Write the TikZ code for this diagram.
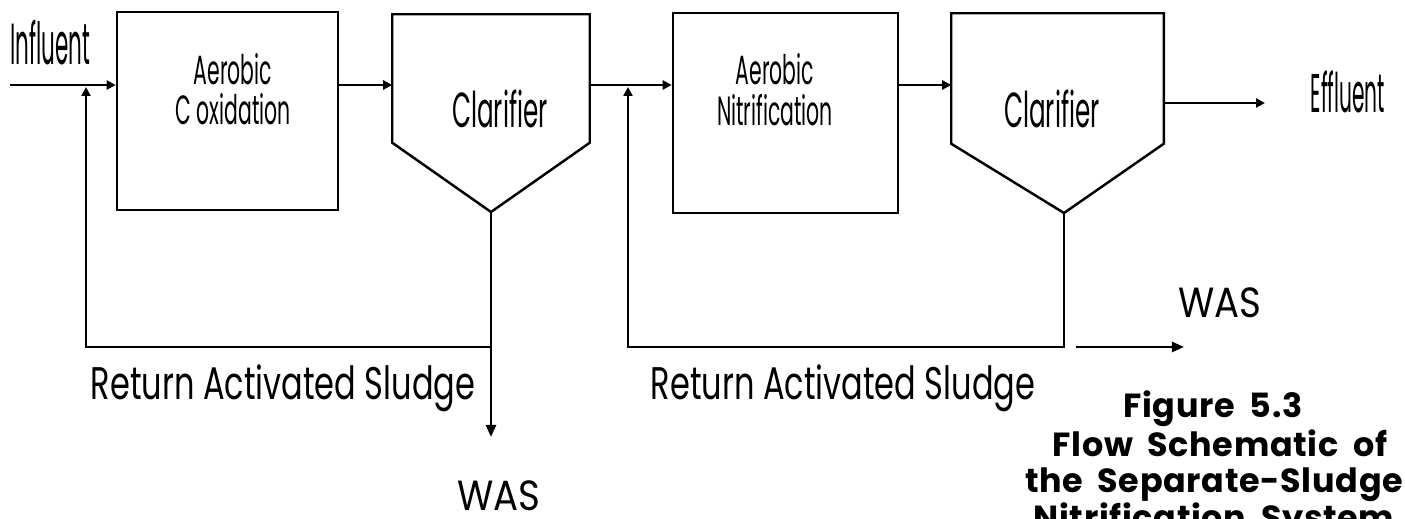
\documentclass[tikz,border=0pt]{standalone}
\usepackage{fontspec}
\usetikzlibrary{arrows.meta,positioning,calc}
\newfontfamily\thinfont[FakeStretch=0.37]{Poppins}
\newfontfamily\slimfont[FakeStretch=0.5]{Poppins}
\newfontfamily\narrowfont[FakeStretch=0.7]{Poppins}
\newfontfamily\wasfont[FakeStretch=0.88]{Poppins}
\newfontfamily\capfont[WordSpace=1.9,LetterSpace=2]{Poppins}
\tikzset{
  vessel/.style={draw,line width=0.7pt,inner sep=0pt},
  body/.style={inner sep=0pt,draw=none},
  wall/.style={line width=0.7pt,line join=miter},
  pipe/.style={line width=0.7pt},
  flow/.style={line width=0.7pt,-{Triangle[length=0.9mm,width=0.9mm]}},
  waste/.style={line width=0.7pt,-{Triangle[length=1.2mm,width=1mm]}},
  unit/.style={font=\slimfont\fontsize{11.6}{13}\selectfont,inner sep=0pt,anchor=base},
  tag/.style={font=\thinfont\fontsize{16.5}{16.5}\selectfont,inner sep=0pt,anchor=base},
  ras/.style={font=\narrowfont\fontsize{13}{13}\selectfont,inner sep=0pt,anchor=base},
  was/.style={font=\wasfont\fontsize{12}{12}\selectfont,inner sep=0pt,anchor=base},
  figcap/.style={font=\capfont\bfseries\fontsize{9.5}{9.5}\selectfont,inner sep=0pt,anchor=base},
}
\begin{document}
\begin{tikzpicture}[x=0.01cm,y=-0.01cm]
  \useasboundingbox (0,0) rectangle (1405,519);
  \clip (0,0) rectangle (1405,519);

  % reactors
  \node[vessel,minimum width=2.21cm,minimum height=1.98cm] (ox) at (227.5,111) {};
  \node[vessel,minimum width=2.25cm,minimum height=2.00cm] (nit) at (785.5,113) {};
  \node[unit] (ox1) at (233,85) {Aerobic};
  \node[unit] (ox2) at (233,125) {C oxidation};
  \node[unit] (nit1) at (775,85) {Aerobic};
  \node[unit] (nit2) at (775,126) {Nitrification};

  % clarifiers
  \node[body,minimum width=1.96cm,minimum height=1.27cm] (k1) at (491,78.5) {};
  \node[body,minimum width=2.11cm,minimum height=1.29cm] (k2) at (1057.5,78.5) {};
  \coordinate (k1tip) at (491,212);
  \coordinate (k2tip) at (1064,213);
  \draw[wall] (k1.north west) -- (k1.south west) -- (k1tip) -- (k1.south east) -- (k1.north east) -- cycle;
  \draw[wall] (k2.north west) -- (k2.south west) -- (k2tip) -- (k2.south east) -- (k2.north east) -- cycle;
  \node[tag,font=\slimfont\fontsize{14}{14}\selectfont] (k1txt) at (500,128) {Clarifier};
  \node[tag,font=\slimfont\fontsize{14}{14}\selectfont] (k2txt) at (1052,128) {Clarifier};

  % main line
  \node[tag] (infl) at (50,65) {Influent};
  \node[tag,font=\thinfont\fontsize{15.5}{15.5}\selectfont] (effl) at (1348,113) {Effluent};
  \coordinate (inf) at (10,85);
  \coordinate (eff) at (1265,103);
  \draw[flow] (inf) -- (ox.west |- inf);
  \draw[flow] (ox.east |- inf) -- (k1.west |- inf);
  \draw[flow] (k1.east |- inf) -- (nit.west |- inf);
  \draw[flow] (nit.east |- inf) -- (k2.west |- inf);
  \draw[flow] (k2.east |- eff) -- (eff);

  % sludge return and wasting
  \coordinate (ras1) at (86,347);
  \coordinate (ras2) at (628,347);
  \coordinate (was1) at (491,437);
  \coordinate (was2a) at (1076,347);
  \coordinate (was2b) at (1184,347);
  \draw[waste] (k1tip) -- (was1);
  \draw[flow] (k1tip |- ras1) -- (ras1) -- ($(ras1 |- inf)+(0,2)$);
  \draw[flow] (k2tip) -- (k2tip |- ras2) -- (ras2) -- ($(ras2 |- inf)+(0,2)$);
  \draw[waste] (was2a) -- (was2b);

  \node[ras] (r1) at (283,400) {Return Activated Sludge};
  \node[ras] (r2) at (843,400) {Return Activated Sludge};
  \node[was] (w1) at (499,511) {WAS};
  \node[was] (w2) at (1220,318) {WAS};

  % caption
  \node[figcap] (c1) at (1213,418) {Figure 5.3};
  \node[figcap] (c2) at (1220,457) {Flow Schematic of};
  \node[figcap] (c3) at (1214,493) {the Separate-Sludge};
  \node[figcap] (c4) at (1214,530) {Nitrification System};
\end{tikzpicture}
\end{document}
